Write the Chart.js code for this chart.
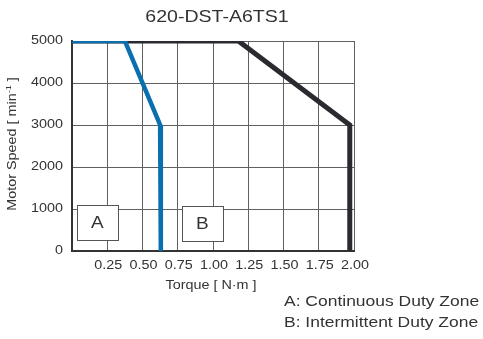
<!DOCTYPE html>
<html>
<head>
<meta charset="utf-8">
<script src="https://cdn.jsdelivr.net/npm/chart.js@4/dist/chart.umd.min.js"></script>
<style>
html,body{margin:0;padding:0;background:#fff;}
#wrap{position:relative;width:483px;height:339px;}
</style>
</head>
<body>
<div id="wrap"><canvas id="c" width="483" height="339"></canvas></div>
<script>
// ---- data ----
const chartTitle = '620-DST-A6TS1';
const xAxisTitle = 'Torque [ N·m ]';
const yAxisTitle = 'Motor Speed [ min';
const xTicks = [0.25, 0.50, 0.75, 1.00, 1.25, 1.50, 1.75, 2.00];
const yTicks = [0, 1000, 2000, 3000, 4000, 5000];
const continuousTorque = [0, 0.375, 0.625, 0.63];
const continuousSpeed  = [5000, 5000, 3000, 0];
const intermittentTorque = [0, 1.18, 1.97, 1.97];
const intermittentSpeed  = [5000, 5000, 3000, 0];
const zoneLabels = ['A', 'B'];
const zoneTorqueFrom = [0.035, 0.78];
const zoneTorqueTo   = [0.325, 1.07];
const zoneSpeedFrom  = [250, 230];
const zoneSpeedTo    = [1090, 1070];
const notes = ['A: Continuous Duty Zone', 'B: Intermittent Duty Zone'];

const FONT = '"Liberation Sans", Arial, sans-serif';
const TXT = '#333333';
const SX = 1.15;

function pts(xs, ys){ return xs.map((x,i)=>({x:x, y:ys[i]})); }

function drawText(ctx, text, x, y, size, align, sx){
  ctx.save();
  ctx.font = size + 'px ' + FONT;
  ctx.fillStyle = TXT;
  ctx.textBaseline = 'middle';
  ctx.translate(x, y);
  ctx.scale(sx, 1);
  ctx.textAlign = align;
  ctx.fillText(text, 0, 0);
  ctx.restore();
}

const textPlugin = {
  id: 'texts',
  afterDraw(chart){
    const ctx = chart.ctx;
    const xs = chart.scales.x, ys = chart.scales.y;
    const ca = chart.chartArea;
    // title
    drawText(ctx, chartTitle, (ca.left+ca.right)/2 + 4, 17, 17, 'center', SX);
    // x ticks
    xTicks.forEach(v=>{
      drawText(ctx, v.toFixed(2), xs.getPixelForValue(v) + 1, 266, 12.5, 'center', SX);
    });
    // y ticks
    yTicks.forEach(v=>{
      drawText(ctx, String(v), 63, ys.getPixelForValue(v), 12.5, 'right', SX);
    });
    // x title
    drawText(ctx, xAxisTitle, (ca.left+ca.right)/2 - 2, 286, 12.5, 'center', SX);
    // y title (rotated) with superscript
    ctx.save();
    ctx.translate(13, (ca.top+ca.bottom)/2 - 2);
    ctx.rotate(-Math.PI/2);
    ctx.scale(SX, 1);
    ctx.fillStyle = TXT;
    ctx.textBaseline = 'middle';
    const main = yAxisTitle, sup = '-1', tail = ' ]';
    ctx.font = '12.5px ' + FONT;
    const wMain = ctx.measureText(main).width;
    const wTail = ctx.measureText(tail).width;
    ctx.font = '8px ' + FONT;
    const wSup = ctx.measureText(sup).width;
    const total = wMain + wSup + wTail;
    let cx = -total/2;
    ctx.font = '12.5px ' + FONT;
    ctx.textAlign = 'left';
    ctx.fillText(main, cx, 0); cx += wMain;
    ctx.font = '8px ' + FONT;
    ctx.fillText(sup, cx, -4); cx += wSup;
    ctx.font = '12.5px ' + FONT;
    ctx.fillText(tail, cx, 0);
    ctx.restore();
    // zone boxes
    zoneLabels.forEach((lab,i)=>{
      const x1 = xs.getPixelForValue(zoneTorqueFrom[i]);
      const x2 = xs.getPixelForValue(zoneTorqueTo[i]);
      const y1 = ys.getPixelForValue(zoneSpeedTo[i]);
      const y2 = ys.getPixelForValue(zoneSpeedFrom[i]);
      ctx.save();
      ctx.fillStyle = '#ffffff';
      ctx.fillRect(x1, y1, x2-x1, y2-y1);
      ctx.strokeStyle = '#555555';
      ctx.lineWidth = 1;
      ctx.strokeRect(Math.round(x1)+0.5, Math.round(y1)+0.5, Math.round(x2-x1), Math.round(y2-y1));
      ctx.restore();
      drawText(ctx, lab, (x1+x2)/2, (y1+y2)/2 + 1, 16.5, 'center', SX);
    });
    // notes
    notes.forEach((n,i)=>{
      drawText(ctx, n, 284, 302 + i*21, 15.2, 'left', SX);
    });
  }
};

new Chart(document.getElementById('c'), {
  type: 'line',
  data: {
    datasets: [
      {
        label: 'Continuous',
        data: pts(continuousTorque, continuousSpeed),
        borderColor: '#0a6fae',
        borderWidth: 4.5,
        pointRadius: 0,
        tension: 0,
        fill: false,
        borderJoinStyle: 'miter',
        borderCapStyle: 'butt'
      },
      {
        label: 'Intermittent',
        data: pts(intermittentTorque, intermittentSpeed),
        borderColor: '#2a2b31',
        borderWidth: 5,
        pointRadius: 0,
        tension: 0,
        fill: false,
        borderJoinStyle: 'miter',
        borderCapStyle: 'butt'
      }
    ]
  },
  options: {
    responsive: false,
    animation: false,
    devicePixelRatio: 1,
    layout: { padding: { left: 72, top: 41, right: 129, bottom: 88 } },
    plugins: { legend: { display: false }, tooltip: { enabled: false }, title: { display: false } },
    scales: {
      x: {
        type: 'linear', min: 0, max: 2,
        afterFit(s){ s.height = 0; },
        ticks: { display: false, stepSize: 0.25 },
        grid: { color: '#606060', lineWidth: 1, drawTicks: false },
        border: { display: true, color: '#333333', width: 2 }
      },
      y: {
        type: 'linear', min: 0, max: 5000,
        afterFit(s){ s.width = 0; },
        ticks: { display: false, stepSize: 1000 },
        grid: { color: '#606060', lineWidth: 1, drawTicks: false },
        border: { display: true, color: '#333333', width: 2 }
      }
    }
  },
  plugins: [textPlugin]
});
</script>
</body>
</html>
